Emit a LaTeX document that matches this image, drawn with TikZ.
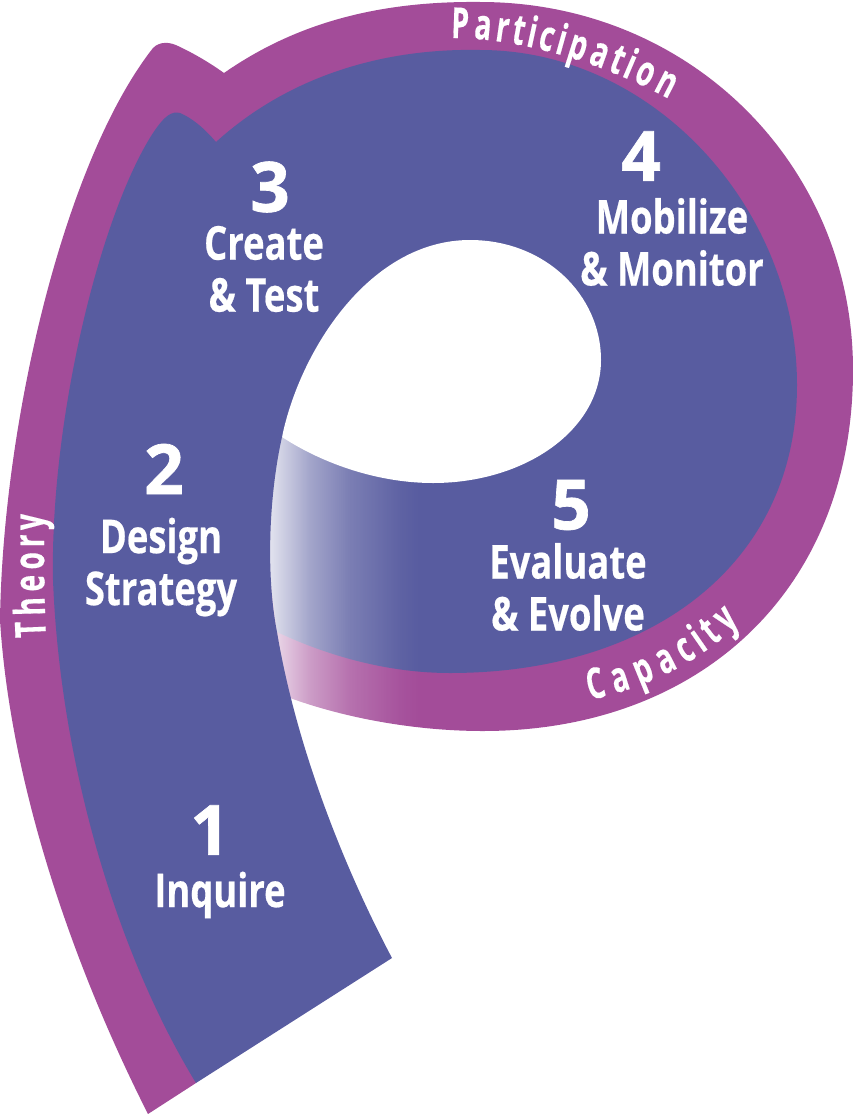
\documentclass[tikz,border=0pt]{standalone}
\usepackage{fontspec}
\usepackage{tikz}
\usetikzlibrary{decorations.text,fadings}
\newfontfamily\stagefont[FakeStretch=0.78,FakeBold=0.4]{Open Sans}
\newfontfamily\numfont[FakeBold=1]{Open Sans}
\newfontfamily\ringfont[FakeStretch=0.66,FakeBold=0.3]{Open Sans}
\definecolor{ringpurple}{HTML}{A34C99}
\definecolor{loopblue}{HTML}{585CA0}
\pgfdeclarehorizontalshading{bandshade}{100bp}{color(0bp)=(transparent!13); color(25bp)=(transparent!13);
  color(27.5bp)=(transparent!17); color(40.2bp)=(transparent!55); color(52.8bp)=(transparent!79);
  color(68.6bp)=(transparent!96); color(75bp)=(transparent!100); color(100bp)=(transparent!100)}
\pgfdeclarefading{bandfade}{\pgfuseshading{bandshade}}
\tikzset{
  stagenum/.style={text=white,font=\numfont\bfseries\fontsize{52}{52}\selectfont},
  stagelabel/.style={text=white,align=center,font=\stagefont\bfseries\fontsize{35}{39}\selectfont},
  ringlabel/.style={decorate,decoration={text effects along path,text={#1},text effects/.cd,
    fit text to path,characters={text=white,font=\ringfont\bfseries\fontsize{32}{32}\selectfont},text along path}},
}
\begin{document}
\begin{tikzpicture}[x=0.75pt,y=-0.75pt]
  \useasboundingbox (0,0) rectangle (853,1114);
  % outer ring and tail
  \fill[ringpurple] (148,1114) .. controls (70,960) and (10,780) .. (0,620)
    .. controls (3,420) and (65,160) .. (153,48)
    .. controls (160,41) and (170,42) .. (178,46)
    .. controls (195,54) and (210,63) .. (224,73)
    .. controls (300,20) and (385,1) .. (480,2)
    .. controls (690,2) and (853,165) .. (853,370)
    .. controls (853,590) and (700,731) .. (483,731)
    .. controls (415,731) and (345,718) .. (290,698)
    -- (196,1083) -- cycle;
  % body of the loop
  \fill[loopblue] (216,142) .. controls (290,75) and (385,48) .. (480,50)
    .. controls (655,50) and (797,210) .. (797,385)
    .. controls (797,565) and (650,673) .. (450,673)
    .. controls (390,673) and (330,657) .. (277,632)
    -- cycle;
  % the white hole
  \fill[white] (282,437) .. controls (300,350) and (370,240) .. (470,240)
    .. controls (545,240) and (601,295) .. (601,360)
    .. controls (601,430) and (525,483) .. (433,483)
    .. controls (380,483) and (325,465) .. (282,437) -- cycle;
  % both bands fade out towards the stem
  \fill[white,path fading=bandfade] (262,437) rectangle (420,740);
  % the stem, over the faded ends
  \fill[loopblue] (196,1083) .. controls (115,950) and (60,760) .. (53,580)
    .. controls (50,420) and (100,215) .. (153,133)
    .. controls (165,115) and (172,111) .. (180,113)
    .. controls (192,118) and (204,128) .. (216,142)
    -- (282,300) -- (282,437)
    .. controls (270,490) and (265,570) .. (277,632)
    .. controls (295,740) and (340,860) .. (392,958) -- cycle;
  % stage labels
  \node[stagenum] (num1) at (210,830) {1};
  \node[stagelabel] (lab1) at (220,895) {Inquire};
  \node[stagenum] (num2) at (164,469) {2};
  \node[stagelabel] (lab2) at (161,567) {Design\\Strategy};
  \node[stagenum] (num3) at (270,187) {3};
  \node[stagelabel] (lab3) at (264,269) {Create\\\& Test};
  \node[stagenum] (num4) at (641,156) {4};
  \node[stagelabel] (lab4) at (672,242) {Mobilize\\\& Monitor};
  \node[stagenum] (num5) at (571,505) {5};
  \node[stagelabel] (lab5) at (568,587) {Evaluate\\\& Evolve};
  % ring labels
  \path[ringlabel=Participation] (451,38) .. controls (520,38) and (600,62) .. (669,99);
  \path[ringlabel=Capacity] (590,700) .. controls (645,688) and (695,665) .. (740,623);
  \path[ringlabel=Theory] (46,637) .. controls (44,595) and (44,555) .. (44,514);
\end{tikzpicture}
\end{document}
